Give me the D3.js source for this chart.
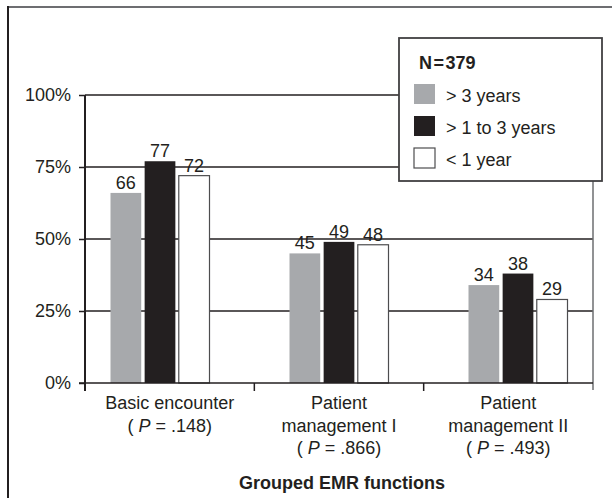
<!DOCTYPE html>
<html>
<head>
<meta charset="utf-8">
<script src="https://cdn.jsdelivr.net/npm/d3@7"></script>
<style>
  body { margin: 0; background: #fff; }
  svg { display: block; }
  text { font-family: "Liberation Sans Narrow", "Arial Narrow", "Liberation Sans", sans-serif; fill: #231f20; }
</style>
</head>
<body>
<svg id="chart" width="612" height="498"></svg>
<script>
// data
const categories = ["Basic encounter", "Patient management I", "Patient management II"];
const categoryLines = [["Basic encounter"], ["Patient", "management I"], ["Patient", "management II"]];
const pValues = [".148", ".866", ".493"];
const series = ["> 3 years", "> 1 to 3 years", "< 1 year"];
const over3Years = [66, 45, 34];
const oneTo3Years = [77, 49, 38];
const under1Year = [72, 48, 29];
const yTicks = [0, 25, 50, 75, 100];
const sampleLabel = "N\u200A=\u200A379";

const seriesValues = [over3Years, oneTo3Years, under1Year];
const fills = ["#a7a9ac", "#231f20", "#ffffff"];
const ink = "#231f20";

const svg = d3.select("#chart");
const plotLeft = 85, plotRight = 593, plotBottom = 383, plotTop = 95;

const y = d3.scaleLinear().domain([0, 100]).range([plotBottom, plotTop]);
const xBand = d3.scaleBand().domain(categories).range([plotLeft, plotRight]);
const xCenter = d3.scalePoint().domain(categories).range([160, 518]);
const xInner = d3.scaleBand().domain(series).range([-49.5, 49.5]).paddingInner(0.1);

// outer frame (only top and left visible)
svg.append("line").attr("x1", 8).attr("x2", 612).attr("y1", 7).attr("y2", 7)
    .attr("stroke", "#6d6e71").attr("stroke-width", 2);
svg.append("line").attr("x1", 8).attr("x2", 8).attr("y1", 6).attr("y2", 498)
    .attr("stroke", ink).attr("stroke-width", 2);

const plot = svg.append("g");

// gridlines
plot.selectAll(".grid")
    .data(yTicks.filter(d => d > 0))
    .join("line")
    .attr("x1", plotLeft).attr("x2", plotRight)
    .attr("y1", d => y(d)).attr("y2", d => y(d))
    .attr("stroke", ink).attr("stroke-width", 1.5);

// right border of the plot
plot.append("line").attr("x1", plotRight).attr("x2", plotRight)
    .attr("y1", plotTop).attr("y2", plotBottom + 7)
    .attr("stroke", "#6d6e71").attr("stroke-width", 1.5);

// bars
const rows = [];
categories.forEach((c, i) => {
    series.forEach((s, j) => {
        rows.push({ cat: c, ser: s, j: j, value: seriesValues[j][i] });
    });
});

plot.selectAll(".bar")
    .data(rows)
    .join("rect")
    .attr("class", "bar")
    .attr("x", d => xCenter(d.cat) + xInner(d.ser))
    .attr("y", d => y(d.value))
    .attr("width", xInner.bandwidth())
    .attr("height", d => y(0) - y(d.value))
    .attr("fill", d => fills[d.j])
    .attr("stroke", d => d.j === 2 ? "#4d4d4f" : "none")
    .attr("stroke-width", 1.2);

plot.selectAll(".val")
    .data(rows)
    .join("text")
    .attr("x", d => xCenter(d.cat) + xInner(d.ser) + xInner.bandwidth() / 2)
    .attr("y", d => y(d.value) - 4)
    .attr("text-anchor", "middle")
    .attr("font-size", 18)
    .text(d => d.value);

// y axis
const yAxis = plot.append("g")
    .attr("transform", `translate(${plotLeft},0)`)
    .call(d3.axisLeft(y).tickValues(yTicks).tickSize(6).tickPadding(8).tickFormat(d => d + "%"));
yAxis.select(".domain").remove();
yAxis.selectAll(".tick line").attr("stroke", ink).attr("stroke-width", 1.5);
yAxis.selectAll(".tick text").attr("font-size", 18).attr("font-family", null).attr("fill", ink);
plot.append("line").attr("x1", plotLeft).attr("x2", plotLeft).attr("y1", plotTop).attr("y2", plotBottom + 8)
    .attr("stroke", ink).attr("stroke-width", 2);

// x axis
plot.append("line").attr("x1", plotLeft - 6).attr("x2", plotRight).attr("y1", plotBottom).attr("y2", plotBottom)
    .attr("stroke", ink).attr("stroke-width", 1.5);
plot.selectAll(".xtick")
    .data(categories.slice(1))
    .join("line")
    .attr("x1", d => xBand(d)).attr("x2", d => xBand(d))
    .attr("y1", plotBottom).attr("y2", plotBottom + 8)
    .attr("stroke", ink).attr("stroke-width", 1.5);

// category labels
categories.forEach((c, i) => {
    const cx = xBand(c) + xBand.bandwidth() / 2;
    const lines = categoryLines[i];
    lines.forEach((ln, k) => {
        plot.append("text")
            .attr("x", cx).attr("y", 409 + k * 22.5)
            .attr("text-anchor", "middle")
            .attr("font-size", 18)
            .text(ln);
    });
    const pt = plot.append("text")
        .attr("x", cx).attr("y", 409 + lines.length * 22.5)
        .attr("text-anchor", "middle")
        .attr("font-size", 18);
    pt.append("tspan").text("( ");
    pt.append("tspan").attr("font-style", "italic").text("P");
    pt.append("tspan").text(" = " + pValues[i] + ")");
});

svg.append("text")
    .attr("x", (plotLeft + plotRight) / 2 + 3).attr("y", 489)
    .attr("text-anchor", "middle")
    .attr("font-size", 18)
    .attr("font-weight", "bold")
    .text("Grouped EMR functions");

// legend
const legend = svg.append("g").attr("transform", "translate(399,38)");
legend.append("rect")
    .attr("width", 203).attr("height", 143)
    .attr("fill", "#fff").attr("stroke", "#414042").attr("stroke-width", 1.8);
legend.append("text")
    .attr("x", 20).attr("y", 31)
    .attr("font-size", 18).attr("font-weight", "bold")
    .text(sampleLabel);
const item = legend.selectAll(".item")
    .data(series)
    .join("g")
    .attr("transform", (d, i) => `translate(15,${46 + i * 32})`);
item.append("rect")
    .attr("width", 21).attr("height", 20)
    .attr("fill", (d, i) => fills[i])
    .attr("stroke", (d, i) => i === 2 ? "#4d4d4f" : "none")
    .attr("stroke-width", 1.2);
item.append("text")
    .attr("x", 32).attr("y", 18)
    .attr("font-size", 18)
    .text(d => d);
</script>
</body>
</html>
